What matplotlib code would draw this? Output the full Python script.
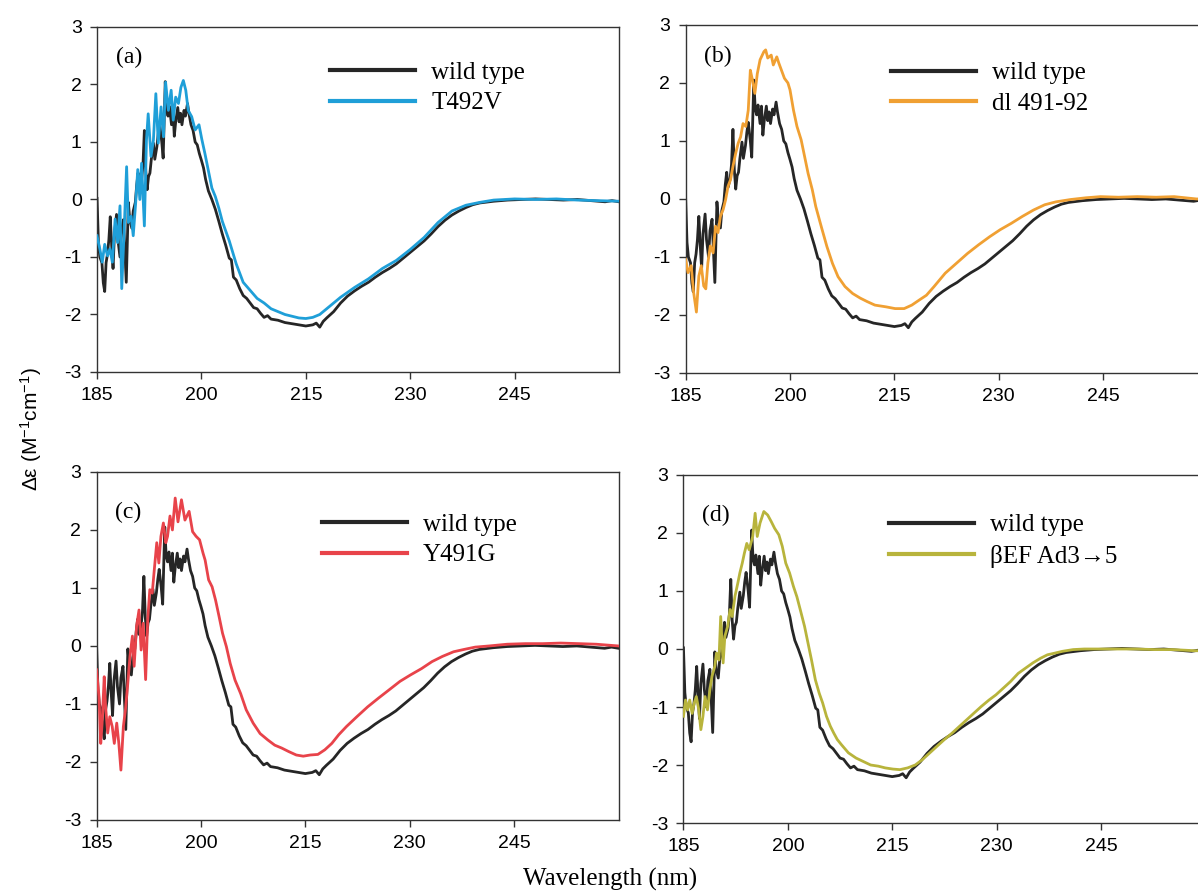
import matplotlib
matplotlib.use('Agg')
import matplotlib.pyplot as plt

# wild type is the same trace in all four panels
wt_nm = [185.0, 185.2, 185.4, 185.7, 185.9, 186.1, 186.3, 186.5, 186.7, 186.9,
         187.1, 187.3, 187.5, 187.8, 188.0, 188.3, 188.5, 188.8, 189.0, 189.2,
         189.5, 189.7, 190.0, 190.2, 190.5, 190.7, 190.9, 191.1, 191.4, 191.6,
         191.8, 192.0, 192.2, 192.4, 192.6, 192.8, 193.1, 193.3, 193.6, 193.8,
         194.0, 194.3, 194.5, 194.8, 195.0, 195.2, 195.4, 195.7, 195.9, 196.1,
         196.3, 196.6, 196.8, 197.0, 197.2, 197.5, 197.7, 198.0, 198.2, 198.5,
         198.8, 199.1, 199.4, 199.7, 200.0, 200.3, 200.6, 201.0, 201.5, 202.0,
         202.5, 203.0, 203.5, 204.0, 204.3, 204.6, 205.0, 205.5, 206.0, 206.5,
         207.0, 207.5, 208.0, 208.5, 209.0, 209.5, 210.0, 211.0, 212.0, 213.0,
         214.0, 215.0, 216.0, 216.5, 217.0, 217.5, 218.0, 219.0, 220.0, 221.0,
         222.0, 223.0, 224.0, 225.0, 226.0, 227.0, 228.0, 229.0, 230.0, 231.0,
         232.0, 233.0, 234.0, 235.0, 236.0, 237.0, 238.0, 239.0, 240.0, 242.0,
         244.0, 246.0, 248.0, 250.0, 252.0, 254.0, 256.0, 258.0, 259.0, 260.0]
wt_de = [0.02, -0.75, -1.0, -1.1, -1.45, -1.6, -1.1, -0.95, -0.7, -0.3,
         -0.8, -1.2, -0.6, -0.26, -0.7, -1.0, -0.55, -0.35, -0.9, -1.44,
         -0.05, -0.35, -0.5, -0.2, -0.05, 0.25, 0.46, 0.2, 0.35, 0.6,
         1.2, 0.5, 0.17, 0.4, 0.46, 0.7, 0.98, 0.7, 0.92, 1.15,
         1.32, 1.0, 0.72, 2.05, 1.55, 1.45, 1.62, 1.3, 1.6, 1.1,
         1.35, 1.6, 1.35, 1.5, 1.3, 1.55, 1.45, 1.67, 1.5, 1.3,
         1.2, 1.0, 0.95, 0.8, 0.68, 0.55, 0.35, 0.15, 0.0, -0.17,
         -0.38, -0.6, -0.8, -1.02, -1.05, -1.35, -1.4, -1.55, -1.67, -1.72,
         -1.8, -1.88, -1.9, -1.98, -2.05, -2.02, -2.08, -2.1, -2.14, -2.16,
         -2.18, -2.2, -2.18, -2.15, -2.22, -2.12, -2.06, -1.95, -1.8, -1.68,
         -1.59, -1.51, -1.44, -1.35, -1.27, -1.2, -1.12, -1.02, -0.92, -0.82,
         -0.72, -0.6, -0.47, -0.36, -0.27, -0.2, -0.14, -0.09, -0.06, -0.03,
         -0.01, 0.0, 0.01, 0.0, -0.01, 0.0, -0.02, -0.04, -0.02, -0.04]

t492v_nm = [185.0, 185.4, 185.75, 186.1, 186.5, 186.85, 187.2, 187.6, 187.95, 188.3,
            188.55, 188.9, 189.25, 189.5, 189.9, 190.2, 190.55, 190.85, 191.15, 191.4,
            191.8, 192.1, 192.35, 192.75, 193.1, 193.45, 193.8, 194.2, 194.55, 194.85,
            195.25, 195.65, 195.95, 196.3, 196.7, 197.05, 197.4, 197.75, 198.1, 198.6,
            199.1, 199.65, 200.05, 200.5, 201.0, 201.5, 202.0, 202.5, 203.0, 203.5,
            204.0, 204.5, 205.0, 206.0, 207.0, 208.0, 209.0, 210.0, 211.0, 212.0,
            213.0, 214.0, 215.0, 216.0, 217.0, 218.0, 219.0, 220.0, 222.0, 224.0,
            226.0, 228.0, 230.0, 232.0, 234.0, 236.0, 238.0, 240.0, 242.0, 245.0,
            248.0, 251.0, 254.0, 257.0, 260.0]
t492v_de = [-0.63, -0.86, -1.09, -0.78, -0.98, -0.86, -1.09, -0.34, -0.75, -0.11,
            -1.55, -0.52, 0.57, -0.4, -0.29, -0.63, -0.06, 0.52, 0.0, 0.63,
            -0.46, 1.03, 1.49, 0.75, 1.03, 1.84, 0.98, 1.61, 1.09, 2.04,
            1.55, 1.9, 1.38, 1.78, 1.67, 1.95, 2.07, 1.9, 1.55, 1.44,
            1.21, 1.3, 1.05, 0.8, 0.5, 0.2, 0.05, -0.15, -0.38, -0.55,
            -0.72, -0.92, -1.12, -1.44, -1.58, -1.72, -1.8, -1.9, -1.95, -2.0,
            -2.03, -2.06, -2.07, -2.05, -2.0, -1.9, -1.8, -1.7, -1.53, -1.38,
            -1.2, -1.06, -0.87, -0.66, -0.4, -0.2, -0.1, -0.05, -0.01, 0.01,
            0.0, 0.01, -0.01, -0.02, -0.03]

dl_nm = [185.0, 185.35, 185.8, 186.15, 186.55, 186.9, 187.25, 187.6, 187.9, 188.2,
         188.55, 188.95, 189.3, 189.65, 190.0, 190.4, 190.75, 191.1, 191.45, 191.8,
         192.2, 192.55, 192.9, 193.25, 193.65, 194.0, 194.3, 194.6, 194.95, 195.3,
         195.7, 196.25, 196.5, 196.8, 197.3, 197.6, 198.1, 198.4, 199.2, 199.7,
         200.0, 200.5, 201.0, 201.6, 202.1, 202.6, 203.2, 203.7, 204.5, 205.3,
         206.1, 206.9, 207.9, 209.0, 210.1, 211.1, 212.2, 213.8, 215.1, 216.4,
         217.5, 218.6, 219.6, 220.7, 222.3, 223.9, 225.5, 227.1, 228.7, 230.2,
         231.8, 233.4, 235.0, 236.6, 238.2, 240.3, 242.5, 244.6, 247.2, 249.9,
         252.6, 255.2, 258.4, 260.0]
dl_de = [-1.04, -1.27, -1.15, -1.61, -1.95, -1.33, -1.15, -1.5, -1.55, -1.1,
         -0.81, -0.93, -0.47, -0.58, -0.3, -0.18, -0.01, 0.22, 0.33, 0.56,
         0.79, 0.96, 1.07, 1.3, 1.25, 1.53, 2.22, 2.05, 1.82, 2.16,
         2.4, 2.54, 2.57, 2.43, 2.48, 2.31, 2.45, 2.34, 2.08, 2.0,
         1.88, 1.53, 1.25, 1.02, 0.73, 0.44, 0.16, -0.13, -0.48, -0.82,
         -1.11, -1.34, -1.51, -1.63, -1.71, -1.77, -1.83, -1.86, -1.89, -1.89,
         -1.83, -1.74, -1.66, -1.51, -1.28, -1.11, -0.94, -0.79, -0.65, -0.53,
         -0.42, -0.3, -0.19, -0.1, -0.05, -0.01, 0.02, 0.04, 0.03, 0.04,
         0.03, 0.04, 0.0, 0.0]

y491g_nm = [185.0, 185.35, 185.6, 185.8, 186.1, 186.3, 186.6, 186.9, 187.25, 187.55,
            187.9, 188.2, 188.5, 188.85, 189.15, 189.45, 189.8, 190.15, 190.4, 190.75,
            191.1, 191.4, 191.7, 192.05, 192.35, 192.65, 193.0, 193.3, 193.65, 193.95,
            194.25, 194.6, 194.95, 195.2, 195.55, 195.9, 196.3, 196.7, 197.2, 197.7,
            198.3, 198.8, 199.3, 199.8, 200.3, 200.6, 201.1, 201.6, 202.1, 202.6,
            203.1, 203.65, 204.2, 204.9, 205.7, 206.5, 207.5, 208.5, 209.6, 210.6,
            211.6, 212.6, 213.7, 214.7, 215.7, 216.8, 217.8, 218.8, 219.8, 220.9,
            222.4, 223.95, 225.5, 227.0, 228.6, 230.1, 231.7, 233.2, 234.7, 236.3,
            237.8, 239.4, 241.4, 244.0, 246.6, 249.1, 251.7, 254.3, 256.8, 260.0]
y491g_de = [-0.41, -0.87, -1.68, -1.33, -0.53, -1.05, -1.5, -1.22, -1.39, -1.68,
            -1.33, -1.68, -2.14, -1.39, -1.1, -0.7, -0.18, 0.17, -0.35, 0.34,
            0.62, -0.07, 0.39, -0.58, 0.45, 0.97, 0.91, 1.32, 1.78, 1.43,
            1.89, 2.12, 1.78, 1.89, 2.24, 2.0, 2.55, 2.14, 2.52, 2.17,
            2.32, 1.97, 1.89, 1.83, 1.6, 1.48, 1.14, 1.02, 0.79, 0.51,
            0.22, -0.01, -0.3, -0.59, -0.82, -1.1, -1.33, -1.51, -1.62, -1.71,
            -1.76, -1.82, -1.88, -1.9, -1.88, -1.87, -1.79, -1.68, -1.53, -1.39,
            -1.22, -1.05, -0.9, -0.76, -0.61, -0.5, -0.39, -0.27, -0.18, -0.1,
            -0.06, -0.02, 0.0, 0.03, 0.04, 0.04, 0.05, 0.04, 0.03, 0.0]

bef_nm = [185.0, 185.3, 185.6, 185.9, 186.25, 186.55, 186.85, 187.2, 187.5, 187.8,
          188.1, 188.45, 188.8, 189.1, 189.5, 189.75, 190.1, 190.35, 190.7, 190.95,
          191.35, 191.7, 192.0, 192.4, 192.8, 193.1, 193.45, 193.75, 194.1, 194.45,
          194.95, 195.3, 195.6, 196.0, 196.55, 197.1, 197.6, 198.1, 198.7, 199.2,
          199.7, 200.25, 200.8, 201.3, 201.8, 202.4, 202.9, 203.4, 203.95, 204.5,
          205.0, 205.55, 206.1, 206.6, 207.1, 207.7, 208.7, 209.8, 210.85, 211.9,
          213.0, 214.0, 215.1, 216.1, 217.2, 218.3, 219.3, 220.4, 221.4, 222.5,
          223.6, 224.6, 225.7, 226.7, 227.8, 228.9, 229.9, 231.0, 232.0, 233.1,
          234.15, 235.2, 236.3, 237.3, 238.4, 239.45, 241.0, 242.6, 244.7, 247.4,
          250.0, 252.7, 255.3, 258.5, 260.0]
bef_de = [-1.16, -0.88, -1.05, -0.88, -1.11, -0.93, -0.82, -1.05, -1.39, -1.16,
          -0.82, -1.05, -0.7, -0.47, -0.3, -0.07, -0.19, 0.56, -0.24, 0.22,
          0.39, 0.68, 0.56, 0.91, 1.13, 1.31, 1.48, 1.65, 1.82, 1.71,
          1.94, 2.34, 1.94, 2.17, 2.37, 2.31, 2.2, 2.08, 1.97, 1.77,
          1.48, 1.31, 1.08, 0.9, 0.67, 0.39, 0.1, -0.19, -0.53, -0.76,
          -0.93, -1.16, -1.33, -1.45, -1.56, -1.65, -1.79, -1.88, -1.94, -2.0,
          -2.02, -2.05, -2.07, -2.08, -2.05, -2.0, -1.91, -1.79, -1.68, -1.56,
          -1.45, -1.34, -1.22, -1.11, -0.99, -0.88, -0.79, -0.67, -0.56, -0.42,
          -0.33, -0.24, -0.16, -0.1, -0.07, -0.04, -0.01, 0.0, 0.0, 0.0,
          0.0, -0.01, -0.01, -0.03, -0.03]

x_ticks = [185, 200, 215, 230, 245]
y_ticks = [-3, -2, -1, 0, 1, 2, 3]

panel_tags = ['(a)', '(b)', '(c)', '(d)']
mutant_labels = ['T492V', 'dl 491-92', 'Y491G', 'βEF Ad3→5']
mutant_colors = ['#1f9fd8', '#f0a033', '#e8434a', '#b8b43c']

SERIF = ['Liberation Serif', 'DejaVu Serif']
SANS = ['Liberation Sans Narrow', 'Liberation Sans', 'DejaVu Sans']

plt.rcParams['mathtext.default'] = 'regular'
plt.rcParams['axes.unicode_minus'] = False


def draw_panel(ax, tag, mut_nm, mut_de, label, color, leg_x, leg_top, tag_y):
  ax.plot(wt_nm, wt_de, color='#262626', lw=2.0, label='wild type', zorder=2)
  ax.plot(mut_nm, mut_de, color=color, lw=2.0, label=label, zorder=3)

  ax.set_xlim(185, 260)
  ax.set_ylim(-3, 3)
  ax.set_xticks(x_ticks)
  ax.set_yticks(y_ticks)
  ax.tick_params(direction='out', length=5, width=1, color='#333333',
                 labelsize=14, pad=6)
  for lab in ax.get_xticklabels() + ax.get_yticklabels():
    lab.set_family(SANS)
  for spine in ax.spines.values():
    spine.set_color('#333333')
    spine.set_linewidth(1.0)

  ax.text(0.036, tag_y, tag, transform=ax.transAxes, family=SERIF,
          fontsize=17, va='center', ha='left')

  leg = ax.legend(loc='upper left', bbox_to_anchor=(leg_x, leg_top),
                  frameon=False, borderpad=0, borderaxespad=0,
                  handlelength=3.4, handletextpad=0.65, labelspacing=0.33,
                  prop={'family': SERIF, 'size': 18})
  for line in leg.get_lines():
    line.set_linewidth(3.0)


fig = plt.figure(figsize=(11.98, 8.94), dpi=100)

positions = [
  [0.0810, 0.5839, 0.4357, 0.3859],
  [0.5723, 0.5828, 0.4357, 0.3893],
  [0.0806, 0.0828, 0.4357, 0.3893],
  [0.5705, 0.0794, 0.4357, 0.3893],
]
series = [(t492v_nm, t492v_de), (dl_nm, dl_de), (y491g_nm, y491g_de), (bef_nm, bef_de)]
legend_x = [0.446, 0.393, 0.431, 0.394]
legend_top = [0.901, 0.894, 0.882, 0.888]
tag_y = [0.913, 0.91, 0.885, 0.885]

for i in range(4):
  ax = fig.add_axes(positions[i])
  draw_panel(ax, panel_tags[i], series[i][0], series[i][1],
             mutant_labels[i], mutant_colors[i], legend_x[i],
             legend_top[i], tag_y[i])

fig.text(0.509, 0.016, 'Wavelength (nm)', family=SERIF, fontsize=18,
         ha='center', va='center')
fig.text(0.026, 0.52, 'Δε (M$^{-1}$cm$^{-1}$)', family=SANS, fontsize=15,
         rotation=90, ha='center', va='center')

fig.savefig('out.png', dpi=100)
